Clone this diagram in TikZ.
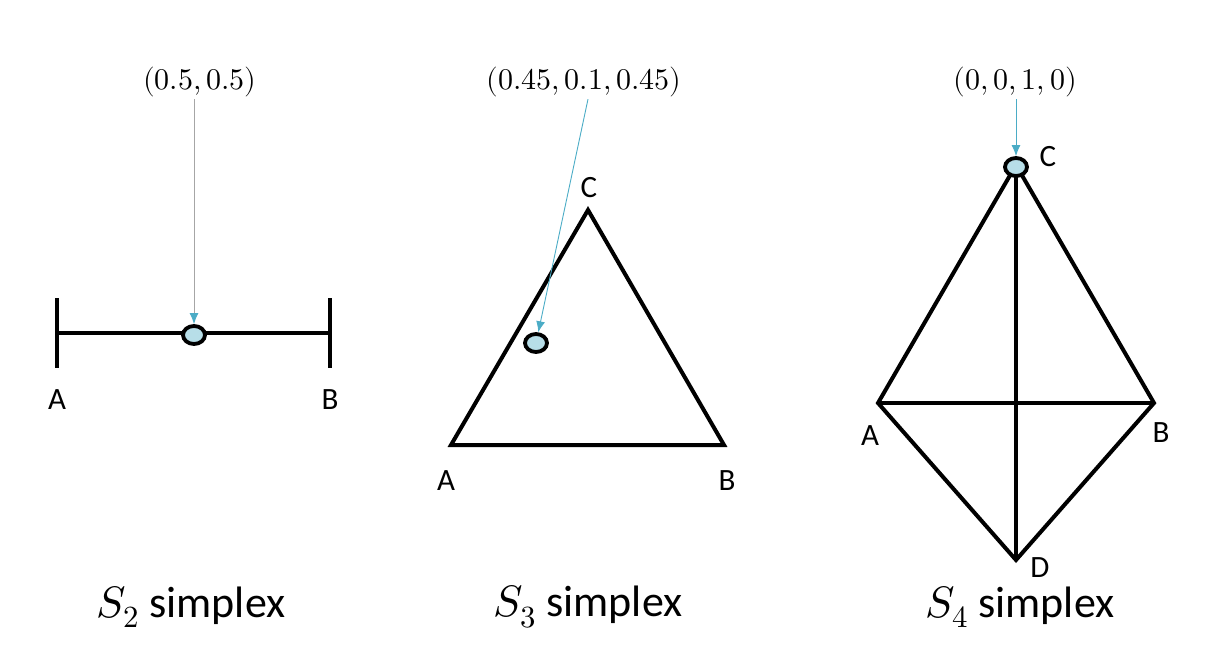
\documentclass[tikz,border=0pt]{standalone}
\usepackage{fontspec}
\usepackage{unicode-math}
\setmainfont{Carlito}
\setmathfont{Latin Modern Math}
\usetikzlibrary{arrows.meta, shapes.geometric}

\definecolor{tipblue}{RGB}{75,172,198}
\definecolor{dotfill}{RGB}{183,222,232}
\definecolor{stemgray}{RGB}{166,166,166}

\tikzset{
	simplexedge/.style = {line width=4pt},
	vertexdot/.style = {ellipse, draw, fill=dotfill, line width=3.8pt, minimum width=22pt, minimum height=18pt, inner sep=0pt},
	pointer/.style = {draw=tipblue, line width=0.9pt, -{Latex[length=11pt, width=9pt, color=tipblue]}},
	vlabel/.style = {font=\fontsize{31}{36}\selectfont, inner sep=0pt},
	coordtext/.style = {font=\fontsize{30}{36}\selectfont, inner sep=2pt},
	caption/.style = {font=\fontsize{44}{50}\selectfont, inner sep=0pt}
}

\begin{document}
\begin{tikzpicture}[x = 1pt, y = -1pt]

	\useasboundingbox (0, 0) rectangle (1215, 668);

	% S2 simplex
	\begin{scope}
		\coordinate (a2) at (57, 333);
		\coordinate (b2) at (330, 333);
		\draw [simplexedge] (57, 298) -- (57, 368);
		\draw [simplexedge] (330, 298) -- (330, 368);
		\draw [simplexedge] (a2) -- (b2);

		\node [vertexdot] (p2) at (194, 335) {};
		\node [coordtext] (l2) at (200, 82) {$(0.5, 0.5)$};
		\draw [pointer, draw=stemgray] (l2.south -| p2) -- (p2);

		\node [vlabel] (la2) at (57, 400) {A};
		\node [vlabel] (lb2) at (330, 400) {B};
		\node [caption] (c2) at (191, 607) {$S_2$ simplex};
	\end{scope}

	% S3 simplex
	\begin{scope}
		\coordinate (a3) at (451, 445);
		\coordinate (b3) at (724, 445);
		\coordinate (c3) at (588, 210);
		\draw [simplexedge] (a3) -- (b3) -- (c3) -- cycle;

		\node [vertexdot] (p3) at (536, 343) {};
		\node [coordtext] (l3) at (584, 82) {$(0.45, 0.1, 0.45)$};
		\draw [pointer] ([xshift=4pt] l3.south) -- (p3);

		\node [vlabel] (lc3) at (589, 188) {C};
		\node [vlabel] (la3) at (446, 481) {A};
		\node [vlabel] (lb3) at (727, 481) {B};
		\node [caption] (c3t) at (588, 607) {$S_3$ simplex};
	\end{scope}

	% S4 simplex
	\begin{scope}
		\coordinate (a4) at (878, 403);
		\coordinate (b4) at (1154, 403);
		\coordinate (c4) at (1016, 165);
		\coordinate (d4) at (1016, 560);
		\draw [simplexedge] (a4) -- (c4) -- (b4) -- (d4) -- cycle;
		\draw [simplexedge] (a4) -- (b4);
		\draw [simplexedge] (c4) -- (d4);

		\node [vertexdot] (p4) at (1016, 167) {};
		\node [coordtext] (l4) at (1015, 82) {$(0, 0, 1, 0)$};
		\draw [pointer] (l4.south -| p4) -- (p4);

		\node [vlabel] (lc4) at (1048, 157) {C};
		\node [vlabel] (la4) at (870, 436) {A};
		\node [vlabel] (lb4) at (1161, 433) {B};
		\node [vlabel] (ld4) at (1040, 568) {D};
		\node [caption] (c4t) at (1020, 607) {$S_4$ simplex};
	\end{scope}

\end{tikzpicture}
\end{document}
